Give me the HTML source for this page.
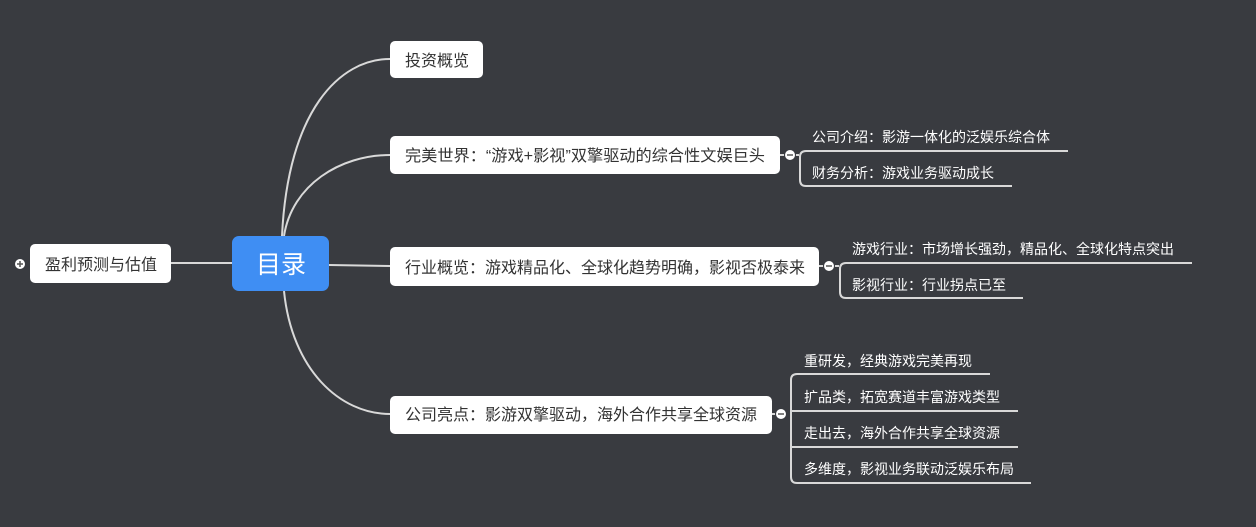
<!DOCTYPE html>
<html><head><meta charset="utf-8"><style>
body{margin:0;width:1256px;height:527px;background:#393b40;overflow:hidden}
svg{display:block}
text{font-family:"Liberation Sans","Noto Sans CJK SC",sans-serif}
</style></head><body>
<svg width="1256" height="527" xmlns="http://www.w3.org/2000/svg">
<g fill="none" stroke="#d9d9d9" stroke-width="2">
<path d="M282,236 C288,110 340,59 390,59"/>
<path d="M284,236 C292,185 340,155 390,155"/>
<path d="M329,265 L390,266"/>
<path d="M284,291 C292,370 340,414 390,414"/>
<path d="M171,263 L232,263"/>
<path d="M780,155 L790,155"/>
<path d="M819,266 L829,266"/>
<path d="M772,414 L781,414"/>
<path d="M790,155 L799,155"/>
<path d="M1068,151 L806,151 Q800,151 800,157 L800,180 Q800,186 806,186 L1012,186"/>
<path d="M829,266 L839,266"/>
<path d="M1192,263 L846,263 Q840,263 840,269 L840,292 Q840,298 846,298 L1023,298"/>
<path d="M990,374 L797,374 Q791,374 791,380 L791,477 Q791,483 797,483 L1031,483"/>
<path d="M791,411 L1018,411"/>
<path d="M791,447 L1018,447"/>
</g>
<rect x="232" y="236" width="97" height="55" rx="7" fill="#3f8ef3"/>
<text x="281" y="273" font-size="25" fill="#fff" text-anchor="middle">目录</text>
<g fill="#fff">
<rect x="30" y="244" width="141" height="39" rx="5"/>
<rect x="390" y="41" width="93" height="37" rx="5"/>
<rect x="390" y="136" width="390" height="38" rx="5"/>
<rect x="390" y="247" width="429" height="39" rx="5"/>
<rect x="390" y="396" width="382" height="38" rx="5"/>
</g>
<g font-size="16" fill="#333">
<text x="45" y="270">盈利预测与估值</text>
<text x="405" y="66">投资概览</text>
<text x="405" y="161" textLength="360" lengthAdjust="spacingAndGlyphs">完美世界：“游戏+影视”双擎驱动的综合性文娱巨头</text>
<text x="405" y="273" textLength="400" lengthAdjust="spacingAndGlyphs">行业概览：游戏精品化、全球化趋势明确，影视否极泰来</text>
<text x="405" y="420" textLength="352" lengthAdjust="spacingAndGlyphs">公司亮点：影游双擎驱动，海外合作共享全球资源</text>
</g>
<g font-size="14" fill="#fff">
<text x="812" y="142">公司介绍：影游一体化的泛娱乐综合体</text>
<text x="812" y="178">财务分析：游戏业务驱动成长</text>
<text x="852" y="254">游戏行业：市场增长强劲，精品化、全球化特点突出</text>
<text x="852" y="290">影视行业：行业拐点已至</text>
<text x="804" y="366">重研发，经典游戏完美再现</text>
<text x="804" y="402">扩品类，拓宽赛道丰富游戏类型</text>
<text x="804" y="438">走出去，海外合作共享全球资源</text>
<text x="804" y="474">多维度，影视业务联动泛娱乐布局</text>
</g>
<g fill="#fff" stroke="#393b40" stroke-width="1">
<circle cx="20" cy="264" r="5.5"/>
<circle cx="790" cy="155" r="5.5"/>
<circle cx="829" cy="266" r="5.5"/>
<circle cx="781" cy="414" r="5.5"/>
</g>
<g stroke="#555" stroke-width="1.5">
<path d="M17,264 H23 M20,261 V267"/>
<path d="M787,155 H793"/>
<path d="M826,266 H832"/>
<path d="M778,414 H784"/>
</g>
</svg>
</body></html>
